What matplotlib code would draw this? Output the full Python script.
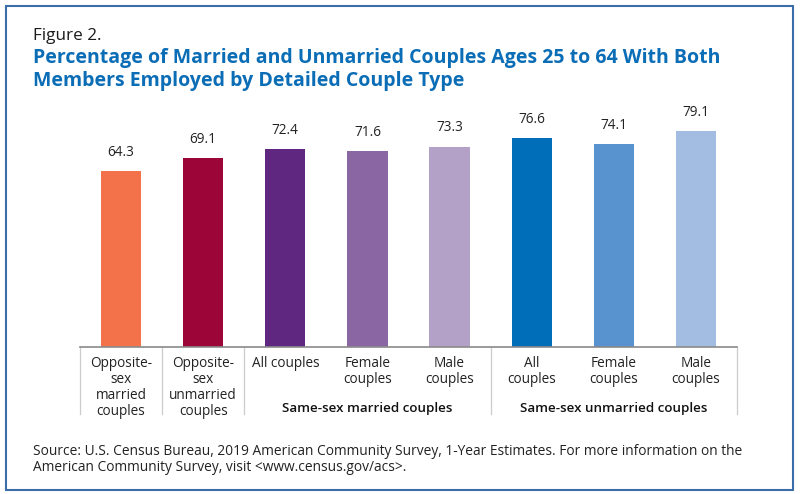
import matplotlib
matplotlib.use("Agg")
import matplotlib.pyplot as plt
import matplotlib.transforms as mtransforms
from matplotlib.patches import Rectangle

plt.rcParams['font.family'] = ['Open Sans', 'DejaVu Sans']

# data
labels = ["Opposite-\nsex\nmarried\ncouples", "Opposite-\nsex\nunmarried\ncouples",
          "All couples", "Female\ncouples", "Male\ncouples",
          "All\ncouples", "Female\ncouples", "Male\ncouples"]
values = [64.3, 69.1, 72.4, 71.6, 73.3, 76.6, 74.1, 79.1]
colors = ["#F3724A", "#9B0538", "#5F277F", "#8A67A3", "#B3A1C8",
          "#006EB8", "#5893D0", "#A3BCE2"]
groups = ["Same-sex married couples", "Same-sex unmarried couples"]
group_centers = [3, 6]
separators = [-0.5, 0.5, 1.5, 4.5, 7.5]

W, H = 800, 494
def fx(px):
    return px / W
def fy(px):
    return 1 - px / H

fig = plt.figure(figsize=(8, 4.94), dpi=100)
base = 346.5
top = 100
ax = fig.add_axes([fx(80), fy(base), fx(737) - fx(80), fy(top) - fy(base)])
x = list(range(len(values)))
bars = ax.bar(x, values, width=0.49, color=colors, zorder=2)
ax.set_xlim(-0.5, 7.5)
ax.set_ylim(0, (base - top) / 2.727)
for sp in ['top', 'right', 'left']:
    ax.spines[sp].set_visible(False)
ax.spines['bottom'].set_color('#8a8a8a')
ax.spines['bottom'].set_linewidth(1.2)
ax.set_yticks([])
ax.set_xticks(x)
ax.set_xticklabels(labels, fontsize=9.8, color='#222222', linespacing=1.07, va='top')
ax.tick_params(axis='x', length=0, pad=7)

for b, v in zip(bars, values):
    ax.annotate(f"{v:.1f}", (b.get_x() + b.get_width() / 2, v), xytext=(0, 8),
                textcoords='offset points', ha='center', va='bottom',
                fontsize=9.8, color='#222222')

trans = mtransforms.blended_transform_factory(ax.transData, ax.transAxes)
ybot = -(414 - base) / (base - top)
for s in separators:
    ax.plot([s, s], [0, ybot], color='#cccccc', lw=0.9, transform=trans, clip_on=False)

for g, c in zip(groups, group_centers):
    ax.text(c, -(408.5 - base) / (base - top), g, transform=trans, ha='center', va='center',
            fontsize=9.6, fontweight='semibold', color='#111111')

fig.text(fx(33), fy(40.5), "Figure 2.", fontsize=12.3, color='#1a1a1a', va='baseline')
fig.text(fx(33), fy(62.5), "Percentage of Married and Unmarried Couples Ages 25 to 64 With Both",
         fontsize=14.0, fontweight='bold', color='#0A6DB6', va='baseline')
fig.text(fx(33), fy(86), "Members Employed by Detailed Couple Type",
         fontsize=14.0, fontweight='bold', color='#0A6DB6', va='baseline')
fig.text(fx(33), fy(455), "Source: U.S. Census Bureau, 2019 American Community Survey, 1-Year Estimates. For more information on the",
         fontsize=9.9, color='#222222', va='baseline')
fig.text(fx(33), fy(470.5), "American Community Survey, visit <www.census.gov/acs>.",
         fontsize=9.9, color='#222222', va='baseline')

fig.patches.append(Rectangle((fx(6), fy(490)), fx(793) - fx(6), fy(6) - fy(490),
                             transform=fig.transFigure, fill=False,
                             edgecolor='#3B6EA8', lw=1.5))

plt.savefig("out.png", dpi=100)
